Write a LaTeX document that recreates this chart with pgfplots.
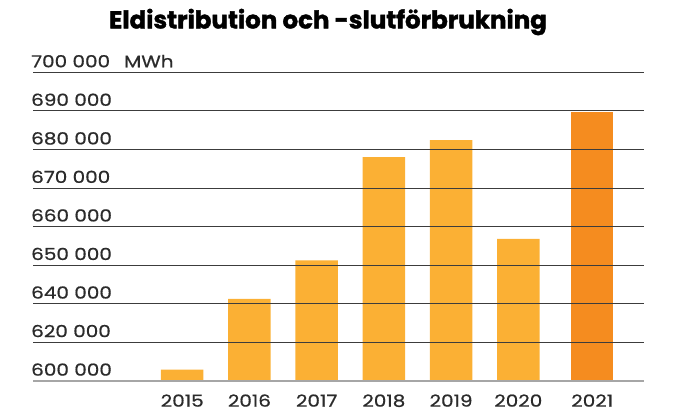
\documentclass[border=0pt]{standalone}
\usepackage{pgfplots}
\pgfplotsset{compat=1.18}
\usepackage{fontspec}
\setmainfont{Poppins}
\newfontfamily\tickfont{Poppins}[FakeStretch=1.2, FakeBold=0.7]
\newfontfamily\titlefont{Poppins}[BoldFeatures={FakeBold=1.6}]
\definecolor{barY}{HTML}{FBB034}
\definecolor{barO}{HTML}{F58C1F}
\definecolor{gridc}{HTML}{3C3C3C}
\definecolor{txt}{HTML}{2B2B2B}
\begin{document}
\begin{tikzpicture}[x=1bp,y=1bp]
\useasboundingbox (0,0) rectangle (681,414);
\node[font=\titlefont\fontsize{24.6}{28}\selectfont\bfseries, text=black, inner sep=0pt] at (328,392) {Eldistribution och -slutförbrukning};
% values in thousand MWh; broken scale: 20 per step below 640, 10 per step above
\begin{axis}[
  at={(33bp,33.3bp)}, anchor=south west,
  scale only axis, width=611.3bp, height=308.4bp,
  xmin=-2.22, xmax=6.875, ymin=600, ymax=700,
  y coord trafo/.code={\pgfmathparse{(#1<640)*((#1-600)/20) + (#1>=640)*(2+(#1-640)/10)}},
  ytick={600,620,640,650,660,670,680,690,700},
  yticklabels={600 000,620 000,640 000,650 000,660 000,670 000,680 000,690 000,{700 000\hspace{14bp}MWh}},
  xtick={0,1,2,3,4,5,6.1},
  xticklabels={2015,2016,2017,2018,2019,2020,2021},
  major tick length=0pt,
  ymajorgrids, grid style={color=gridc, line width=0.8bp},
  axis on top,
  axis x line*=bottom, x axis line style={color=gray!70, line width=1.6bp, -},
  axis y line*=left, y axis line style={draw=none},
  yticklabel style={anchor=base west, inner sep=0pt, xshift=-2bp, yshift=5bp, font=\tickfont\fontsize{16.7}{20}\selectfont, text=txt},
  xticklabel style={anchor=base, inner sep=0pt, yshift=-26bp, font=\tickfont\fontsize{16.7}{20}\selectfont, text=txt},
  ybar, bar width=42.5bp, bar shift=0pt,
  clip=true,
]
\addplot[fill=barY, draw=none] coordinates {(0,605.7) (1,641.2) (2,651.2) (3,678.0) (4,682.4) (5,656.8)};
\addplot[fill=barO, draw=none] coordinates {(6.1,689.8)};
\end{axis}
\end{tikzpicture}
\end{document}
